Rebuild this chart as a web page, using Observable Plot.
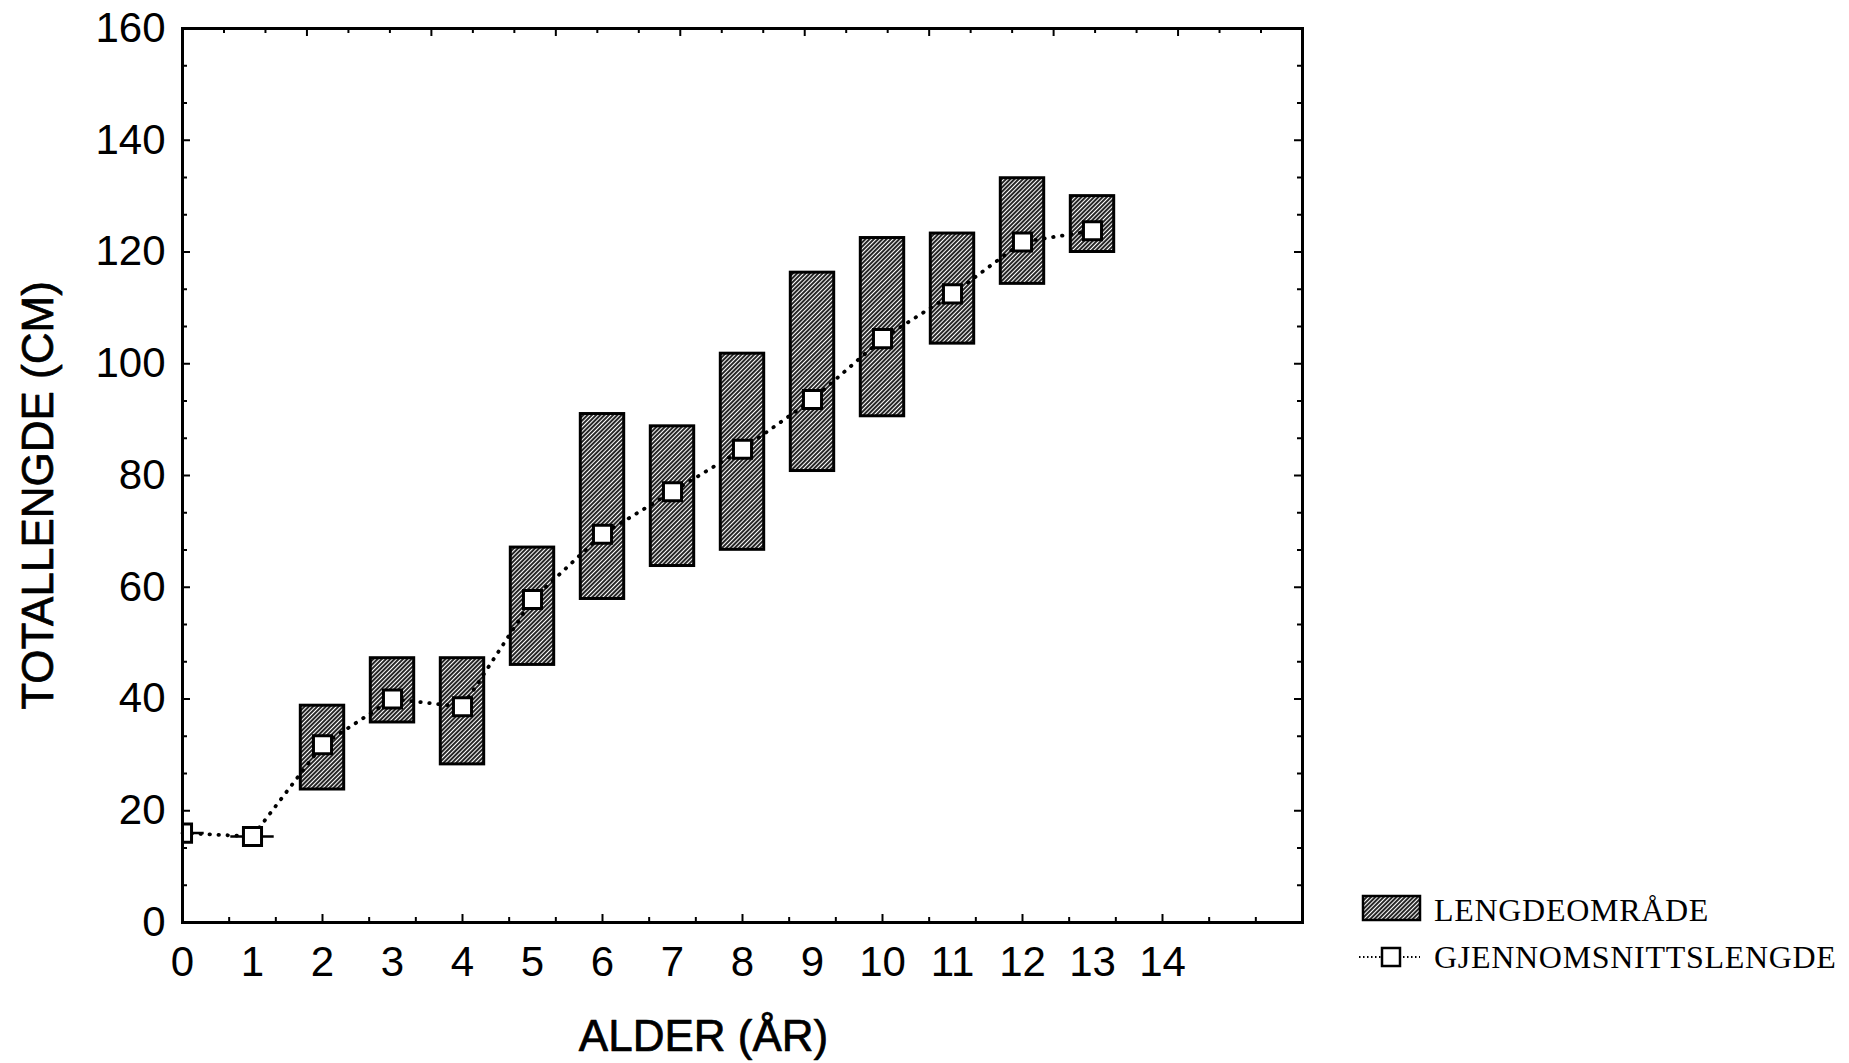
<!DOCTYPE html>
<html>
<head>
<meta charset="utf-8">
<script src="https://cdn.jsdelivr.net/npm/d3@7"></script>
<script src="https://cdn.jsdelivr.net/npm/@observablehq/plot@0.6"></script>
<style>
  html, body { margin: 0; padding: 0; background: #fff; }
  #wrap { position: relative; width: 1849px; height: 1063px; }
  #legend { position: absolute; left: 1340px; top: 880px; }
  #legend text { font-family: "Liberation Serif", "Times New Roman", serif; font-size: 32px; letter-spacing: 0.7px; fill: #000; }
</style>
</head>
<body>
<!-- shared hatch fill for the length-range boxes -->
<svg width="0" height="0" style="position:absolute">
  <defs>
    <pattern id="hatch" patternUnits="userSpaceOnUse" width="3" height="3" patternTransform="rotate(45)">
      <rect width="3" height="3" fill="#fff"/>
      <line x1="1" y1="0" x2="1" y2="3" stroke="#000" stroke-width="1.7"/>
    </pattern>
  </defs>
</svg>
<div id="wrap">
  <svg id="legend" width="509" height="110">
    <rect x="23" y="16" width="57" height="24" fill="url(#hatch)" stroke="#000" stroke-width="2.5"/>
    <text x="94" y="41">LENGDEOMRÅDE</text>
    <line x1="19" y1="77" x2="80" y2="77" stroke="#000" stroke-width="2" stroke-dasharray="1.5 2.5"/>
    <rect x="42" y="68" width="18" height="18" fill="#fff" stroke="#000" stroke-width="2.5"/>
    <text x="94" y="88">GJENNOMSNITTSLENGDE</text>
  </svg>
</div>
<script>
// Age classes (years)
const ages = [0, 1, 2, 3, 4, 5, 6, 7, 8, 9, 10, 11, 12, 13];
// Length range per age (cm): shortest and longest fish
const minLength = [16.0, 15.4, 23.8, 35.8, 28.3, 46.1, 57.9, 63.8, 66.7, 80.8, 90.6, 103.6, 114.3, 120.0];
const maxLength = [16.0, 15.4, 38.8, 47.3, 47.3, 67.1, 91.0, 88.8, 101.8, 116.3, 122.5, 123.3, 133.2, 130.0];
// Mean length per age (cm)
const meanLength = [16.0, 15.4, 31.8, 40.0, 38.6, 57.8, 69.5, 77.1, 84.7, 93.6, 104.5, 112.5, 121.8, 123.8];

// Axis tick values
const xLabels = [0, 1, 2, 3, 4, 5, 6, 7, 8, 9, 10, 11, 12, 13, 14];
const yLabels = [0, 20, 40, 60, 80, 100, 120, 140, 160];

const rows = ages.map((age, i) => ({age, min: minLength[i], max: maxLength[i], mean: meanLength[i]}));
const boxes = rows.filter(d => d.max > d.min);
const flat = rows.filter(d => d.max === d.min);

const W = 1849, H = 1063;
const mL = 182, mR = 547, mT = 28, mB = 141;
const frameW = W - mL - mR, frameH = H - mT - mB;
const half = 0.31; // half width of a range box, in years

// tick positions around the frame
const xMajor = d3.range(0, 17, 2);
const xMinor = d3.range(0, 25).map(j => j * 2 / 3).filter((v, j) => j % 3 !== 0);
const topMajor = d3.range(0, 10).map(k => 16 * k / 9);
const topMinor = d3.range(0, 28).map(j => 16 * j / 27).filter((v, j) => j % 3 !== 0);
const yMinor = d3.range(0, 25).map(j => j * 20 / 3).filter((v, j) => j % 3 !== 0);

const tickStyle = {stroke: "black", strokeWidth: 2};
const textStyle = {fill: "black", stroke: "black", strokeWidth: 0.7};

const chart = Plot.plot({
  width: W,
  height: H,
  marginLeft: mL,
  marginRight: mR,
  marginTop: mT,
  marginBottom: mB,
  x: {domain: [0, 16], axis: null, label: null},
  y: {domain: [0, 160], axis: null, label: null},
  style: {fontFamily: '"Liberation Sans", Arial, sans-serif', background: "white", color: "black", overflow: "visible"},
  marks: [
    // length ranges
    Plot.rect(boxes, {x1: d => d.age - half, x2: d => d.age + half, y1: "min", y2: "max",
      fill: "url(#hatch)", stroke: "black", strokeWidth: 3}),
    Plot.ruleY(flat, {x1: d => d.age - half, x2: d => d.age + half, y: "min",
      stroke: "black", strokeWidth: 2.5, clip: true}),
    // mean length
    Plot.line(rows, {x: "age", y: "mean", stroke: "black", strokeWidth: 3.8,
      strokeDasharray: "0.5 8.5", strokeLinecap: "round"}),
    Plot.dot(rows, {x: "age", y: "mean", symbol: "square", r: 10.2,
      fill: "white", stroke: "black", strokeWidth: 3, clip: true}),
    Plot.frame({stroke: "black", strokeWidth: 3}),
    // inward ticks: left
    Plot.tickY(yLabels, {y: d => d, insetRight: frameW - 8, ...tickStyle}),
    Plot.tickY(yMinor, {y: d => d, insetRight: frameW - 5, ...tickStyle}),
    // right
    Plot.tickY(yLabels, {y: d => d, insetLeft: frameW - 8, ...tickStyle}),
    Plot.tickY(yMinor, {y: d => d, insetLeft: frameW - 5, ...tickStyle}),
    // bottom
    Plot.tickX(xMajor, {x: d => d, insetTop: frameH - 8, ...tickStyle}),
    Plot.tickX(xMinor, {x: d => d, insetTop: frameH - 5, ...tickStyle}),
    // top
    Plot.tickX(topMajor, {x: d => d, insetBottom: frameH - 8, ...tickStyle}),
    Plot.tickX(topMinor, {x: d => d, insetBottom: frameH - 5, ...tickStyle}),
    // tick labels
    Plot.axisY(yLabels, {tickSize: 0, tickPadding: 17, fontSize: 42, label: null, ...textStyle}),
    Plot.axisX(xLabels, {tickSize: 0, tickPadding: 24, fontSize: 42, label: null, ...textStyle}),
    // axis titles
    Plot.text(["ALDER (ÅR)"], {frameAnchor: "bottom", textAnchor: "middle", lineAnchor: "middle",
      dx: -39, dy: 114, fontSize: 44, ...textStyle}),
    Plot.text(["TOTALLENGDE (CM)"], {frameAnchor: "left", textAnchor: "middle", lineAnchor: "middle",
      rotate: -90, dx: -144, dy: 20, fontSize: 44, ...textStyle})
  ]
});

document.getElementById("wrap").prepend(chart);
</script>
</body>
</html>
